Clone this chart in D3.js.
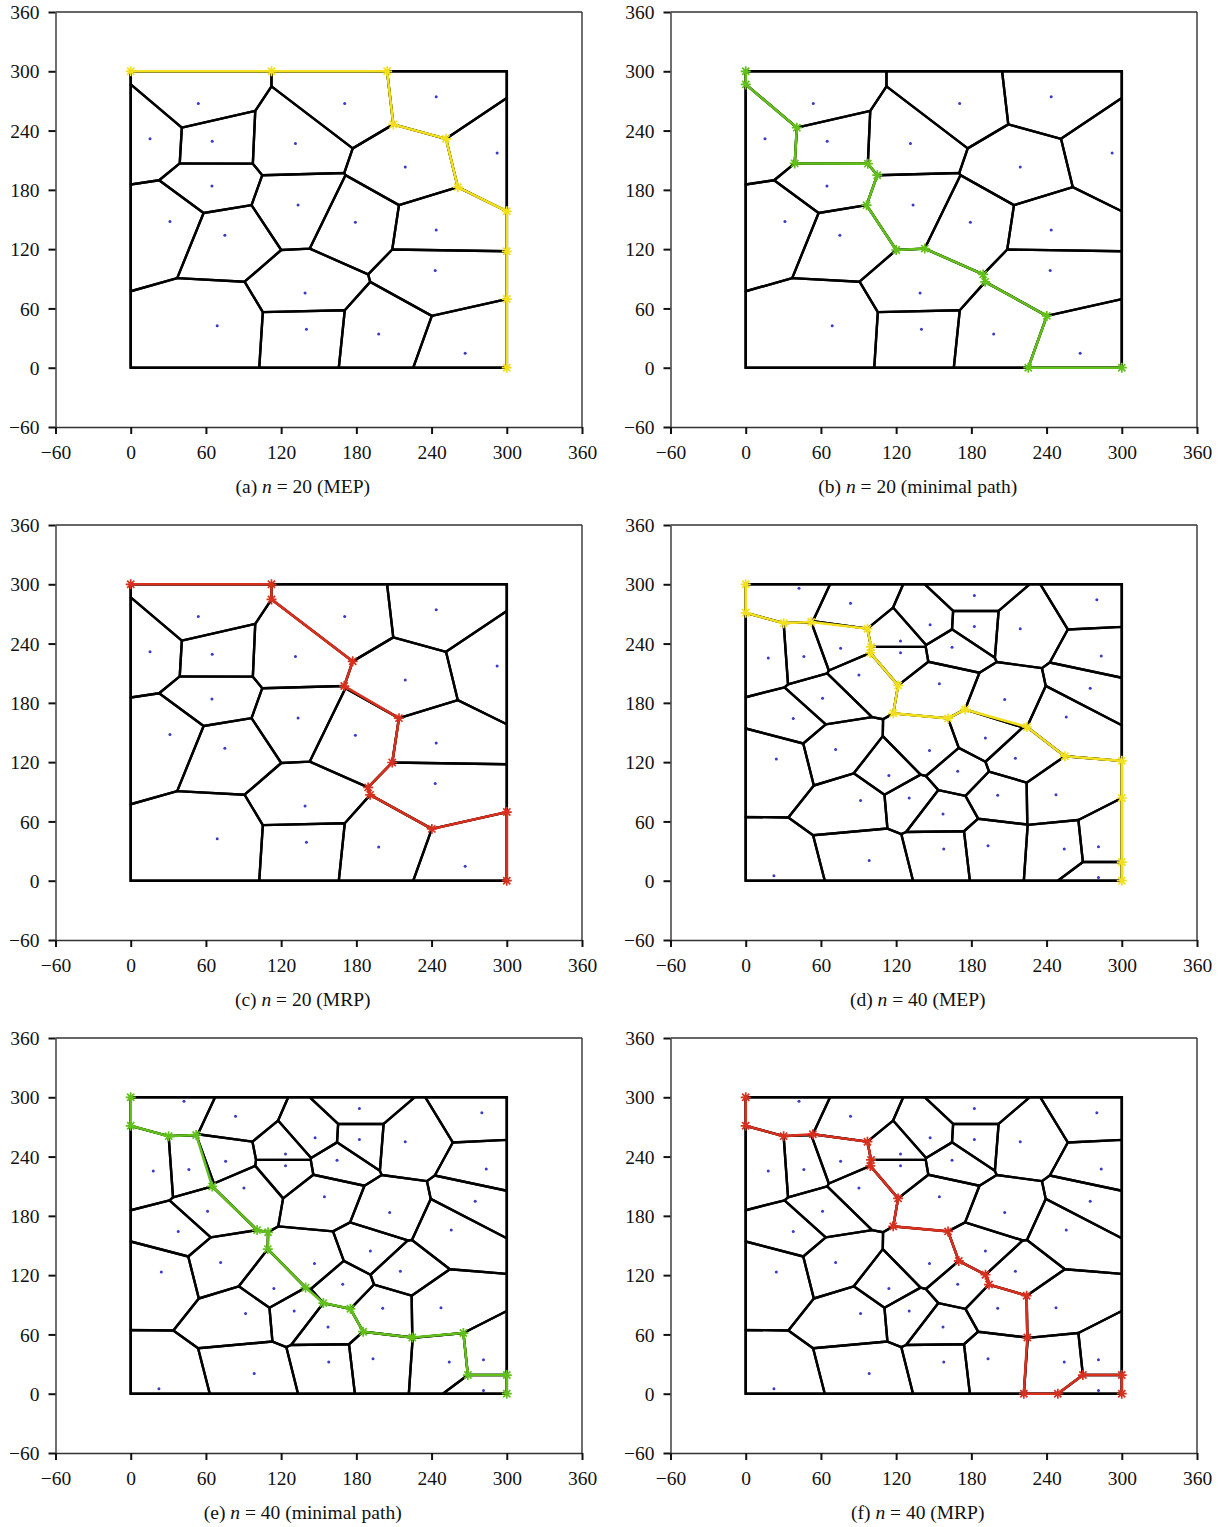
<!DOCTYPE html>
<html>
<head>
<meta charset="utf-8">
<script src="https://cdn.jsdelivr.net/npm/d3@7"></script>
<style>
  body { margin: 0; background: #fff; }
  svg { display: block; }
  .tick text { font-family: "Liberation Serif", "DejaVu Serif", serif; font-size: 19.5px; fill: #111; }
  .caption { font-family: "Liberation Serif", "DejaVu Serif", serif; font-size: 19.5px; fill: #111; }
</style>
</head>
<body>
<script>
// ---------------- data ----------------
const axisTicks = [-60, 0, 60, 120, 180, 240, 300, 360];
const fieldBounds = [0, 0, 300, 300];

// generator sites, n = 20
const sites20 = [
  [53.9, 267.5], [170.7, 267.5], [243.7, 274.2], [15.4, 231.6], [65.0, 229.3],
  [131.4, 226.9], [292.3, 217.2], [219.0, 203.1], [64.8, 184.0], [133.5, 164.6],
  [31.3, 148.1], [179.2, 147.1], [243.7, 139.4], [75.1, 134.1], [242.9, 98.5],
  [139.1, 75.7], [69.0, 42.5], [140.2, 38.9], [197.8, 34.2], [266.8, 14.7]
];

// generator sites, n = 40
const sites40 = [
  [42.5, 296.0], [182.4, 288.6], [83.6, 280.9], [280.1, 284.3], [147.1, 259.1],
  [182.4, 257.4], [219.0, 255.1], [123.5, 242.7], [123.5, 230.6], [75.7, 235.3],
  [46.4, 226.9], [18.0, 225.3], [164.6, 236.3], [283.6, 227.3], [90.3, 208.2],
  [154.5, 199.4], [274.8, 194.7], [61.3, 184.7], [206.6, 183.3], [37.9, 164.2],
  [255.7, 165.6], [191.2, 144.5], [146.6, 131.7], [71.7, 132.7], [215.1, 124.0],
  [24.4, 123.3], [169.1, 110.9], [114.2, 106.6], [247.5, 87.1], [201.0, 86.5],
  [130.4, 83.8], [91.6, 81.1], [157.4, 67.4], [158.0, 32.2], [193.3, 35.5],
  [254.1, 32.2], [281.4, 34.5], [98.5, 20.4], [22.5, 5.0], [281.4, 3.3]
];

// routes (waypoints)
const pathMEP20 = [[0, 300], [112.3, 300], [204.7, 300], [209.0, 245.7], [251.7, 232.3],
  [261.5, 182.7], [300, 157.5], [300, 117.6], [300, 70.4], [300, 0]];
const pathMin20 = [[0, 300], [0, 290.3], [39.8, 246.4], [38.5, 209.5], [96.4, 209.5],
  [104.3, 197.1], [95.0, 166.9], [118.9, 121.0], [142.0, 122.7], [188.5, 97.5],
  [190.6, 89.1], [239.5, 54.6], [224.4, 0], [300, 0]];
const pathMRP20 = [[0, 300], [111.5, 300], [112.1, 284.9], [175.8, 222.9], [170.5, 196.4],
  [212.7, 166.2], [207.6, 120.0], [188.5, 96.5], [189.7, 88.1], [239.0, 52.9],
  [300, 70.4], [300, 0]];
const pathMEP40 = [[0, 300], [0, 271.5], [29.7, 260.8], [52.6, 261.8], [96.9, 255.1],
  [99.0, 236.7], [99.6, 230.6], [120.8, 197.8], [117.6, 168.6], [161.4, 164.6],
  [175.2, 173.6], [223.0, 155.9], [254.4, 125.7], [300, 121.0], [300, 83.8],
  [300, 18.7], [300, 0]];
const pathMin40 = [[0, 300], [0, 270.8], [30.0, 260.8], [51.8, 261.5], [65.6, 210.5],
  [100.1, 164.6], [108.3, 163.6], [108.3, 146.1], [140.7, 106.6], [153.2, 90.8],
  [173.9, 85.8], [184.5, 62.3], [223.6, 56.3], [264.2, 61.3], [268.2, 18.4],
  [300, 18.4], [300, 0]];
const pathMRP40 = [[0, 300], [0, 271.5], [30.0, 260.8], [53.1, 262.5], [96.9, 256.8],
  [99.6, 238.0], [99.6, 231.3], [121.3, 198.1], [117.6, 169.6], [161.4, 165.2],
  [169.9, 136.1], [191.2, 121.7], [193.8, 110.9], [223.6, 99.9], [223.6, 57.3],
  [221.2, 0], [248.3, 0], [268.2, 19.4], [300, 19.4], [300, 0]];

const captions = [
  ["(a) ", " = 20 (MEP)"],
  ["(b) ", " = 20 (minimal path)"],
  ["(c) ", " = 20 (MRP)"],
  ["(d) ", " = 40 (MEP)"],
  ["(e) ", " = 40 (minimal path)"],
  ["(f) ", " = 40 (MRP)"]
];

const routeColors = { yellow: "#f2e01e", green: "#62c01a", red: "#d8301e" };

const panels = [
  { sites: sites20, route: pathMEP20, color: routeColors.yellow, cap: captions[0], col: 0, row: 0 },
  { sites: sites20, route: pathMin20, color: routeColors.green,  cap: captions[1], col: 1, row: 0 },
  { sites: sites20, route: pathMRP20, color: routeColors.red,    cap: captions[2], col: 0, row: 1 },
  { sites: sites40, route: pathMEP40, color: routeColors.yellow, cap: captions[3], col: 1, row: 1 },
  { sites: sites40, route: pathMin40, color: routeColors.green,  cap: captions[4], col: 0, row: 2 },
  { sites: sites40, route: pathMRP40, color: routeColors.red,    cap: captions[5], col: 1, row: 2 }
];

// ---------------- layout ----------------
const W = 1224, H = 1527;
const colLeft = [55.5, 670.5], plotW = 526.5;
const rowTop = [12, 525, 1038], plotH = 415;

const svg = d3.select("body").append("svg").attr("width", W).attr("height", H);

function starPath(cx, cy, r) {
  const p = d3.path();
  const d = r * 0.72;
  p.moveTo(cx - r, cy); p.lineTo(cx + r, cy);
  p.moveTo(cx, cy - r); p.lineTo(cx, cy + r);
  p.moveTo(cx - d, cy - d); p.lineTo(cx + d, cy + d);
  p.moveTo(cx - d, cy + d); p.lineTo(cx + d, cy - d);
  return p.toString();
}

panels.forEach(pn => {
  const x0 = colLeft[pn.col], y0 = rowTop[pn.row];
  const x = d3.scaleLinear().domain([-60, 360]).range([x0, x0 + plotW]);
  const y = d3.scaleLinear().domain([-60, 360]).range([y0 + plotH, y0]);
  const g = svg.append("g");

  // Voronoi field
  const delaunay = d3.Delaunay.from(pn.sites);
  const vor = delaunay.voronoi(fieldBounds);
  const verts = [];
  const line = d3.line().x(d => x(d[0])).y(d => y(d[1]));
  for (let i = 0; i < pn.sites.length; i++) {
    const poly = vor.cellPolygon(i);
    if (!poly) continue;
    poly.forEach(v => verts.push(v));
    g.append("path").attr("d", line(poly) + "Z")
      .attr("fill", "none").attr("stroke", "#000").attr("stroke-width", 2.4)
      .attr("stroke-linejoin", "round");
  }
  // outer field box
  g.append("path").attr("d", line([[0, 0], [300, 0], [300, 300], [0, 300]]) + "Z")
    .attr("fill", "none").attr("stroke", "#000").attr("stroke-width", 2.6);

  // sites
  g.selectAll("circle.site").data(pn.sites).join("circle")
    .attr("cx", d => x(d[0])).attr("cy", d => y(d[1])).attr("r", 1.5)
    .attr("fill", "#3a3ac8");

  // snap waypoints to nearest Voronoi vertex (if very close)
  const route = pn.route.map(p => {
    let best = null, bd = 4.5;
    verts.forEach(v => {
      const dd = Math.hypot(v[0] - p[0], v[1] - p[1]);
      if (dd < bd) { bd = dd; best = v; }
    });
    return best ? best : p;
  });

  g.append("path").attr("d", line(route))
    .attr("fill", "none").attr("stroke", pn.color).attr("stroke-width", 2.6)
    .attr("stroke-linejoin", "round");
  g.selectAll("path.star").data(route).join("path")
    .attr("class", "star")
    .attr("d", d => starPath(x(d[0]), y(d[1]), 5))
    .attr("stroke", pn.color).attr("stroke-width", 1.7).attr("fill", "none");

  // axes
  const ax = g.append("g").attr("transform", `translate(0,${y(-60)})`)
    .call(d3.axisBottom(x).tickValues(axisTicks).tickSize(7).tickSizeOuter(0)
      .tickFormat(d => d < 0 ? "\u2212" + Math.abs(d) : d));
  ax.selectAll("text").attr("dy", "1.12em");
  const ay = g.append("g").attr("transform", `translate(${x(-60)},0)`)
    .call(d3.axisLeft(y).tickValues(axisTicks).tickSize(7).tickSizeOuter(0)
      .tickFormat(d => d < 0 ? "\u2212" + Math.abs(d) : d));
  ay.selectAll("text").attr("x", -16).attr("dy", "0.34em");
  [ax, ay].forEach(a => {
    a.select(".domain").attr("stroke", "#333").attr("stroke-width", 1.4);
    a.selectAll(".tick line").attr("stroke", "#111").attr("stroke-width", 2);
  });
  // top & right frame lines
  g.append("line").attr("x1", x(-60)).attr("x2", x(360)).attr("y1", y(360)).attr("y2", y(360))
    .attr("stroke", "#333").attr("stroke-width", 1.4);
  g.append("line").attr("x1", x(360)).attr("x2", x(360)).attr("y1", y(360)).attr("y2", y(-60))
    .attr("stroke", "#333").attr("stroke-width", 1.4);

  // caption
  const t = g.append("text").attr("class", "caption")
    .attr("x", (x(-60) + x(360)) / 2 - 16).attr("y", y(-60) + 66)
    .attr("text-anchor", "middle").attr("xml:space", "preserve");
  t.append("tspan").text(pn.cap[0]);
  t.append("tspan").attr("font-style", "italic").text("n");
  t.append("tspan").text(pn.cap[1]);
});
</script>
</body>
</html>
